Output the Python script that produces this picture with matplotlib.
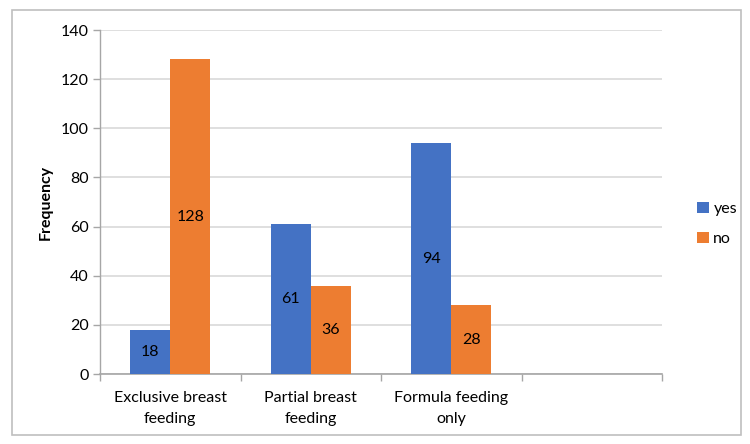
import numpy as np
import matplotlib.pyplot as plt
from matplotlib.patches import Rectangle

# data
categories = ["Exclusive breast\nfeeding", "Partial breast\nfeeding", "Formula feeding\nonly", ""]
yes_vals = [18, 61, 94, np.nan]
no_vals = [128, 36, 28, np.nan]
series_names = ["yes", "no"]
yticks = [0, 20, 40, 60, 80, 100, 120, 140]

plt.rcParams['font.family'] = ['Lato', 'DejaVu Sans']
W, H = 750, 444
fig = plt.figure(figsize=(W / 100, H / 100), dpi=100)
ax = fig.add_axes([100 / W, 1 - 374 / H, (662 - 100) / W, (374 - 30) / H])

blue = '#4472C4'
orange = '#ED7D31'
grid_c = '#D9D9D9'
axis_c = '#A6A6A6'

x = np.arange(len(categories))
bw = 0.285
b1 = ax.bar(x - bw / 2, yes_vals, bw, color=blue, label=series_names[0], zorder=3)
b2 = ax.bar(x + bw / 2, no_vals, bw, color=orange, label=series_names[1], zorder=3)

for bars, vals in ((b1, yes_vals), (b2, no_vals)):
    for rect, v in zip(bars, vals):
        if np.isnan(v):
            continue
        ax.text(rect.get_x() + rect.get_width() / 2, v / 2, '%d' % v,
                ha='center', va='center', fontsize=11.5, color='black', zorder=4)

ax.set_xlim(-0.5, len(categories) - 0.5)
ax.set_ylim(0, 140)
ax.set_yticks(yticks)
ax.yaxis.grid(True, color=grid_c, linewidth=1.2, zorder=0)
ax.set_axisbelow(True)

ax.set_xticks(x)
ax.set_xticklabels(categories, fontsize=11.5, linespacing=1.65)
ax.set_xticks(np.arange(len(categories) + 1) - 0.5, minor=True)
ax.tick_params(axis='x', which='major', length=0, pad=12)
ax.tick_params(axis='x', which='minor', length=5, color=axis_c, width=1)
ax.tick_params(axis='y', length=5, color=axis_c, width=1, labelsize=11.5, pad=3)

for s in ('top', 'right'):
    ax.spines[s].set_visible(False)
ax.spines['left'].set_color(axis_c)
ax.spines['bottom'].set_color(axis_c)
ax.spines['left'].set_linewidth(1)
ax.spines['bottom'].set_linewidth(1.2)

ax.set_ylabel('Frequency', fontsize=11.5, fontweight='bold', labelpad=6)

fig.legend(handles=[b1, b2], loc='center left', bbox_to_anchor=(683 / W, 1 - 224 / H),
           frameon=False, fontsize=11.5, handlelength=0.7, handleheight=0.7,
           handletextpad=0.3, labelspacing=1.0)

fig.patches.append(Rectangle((12 / W, 1 - 435 / H), (741 - 12) / W, (435 - 10) / H,
                             transform=fig.transFigure, fill=False,
                             edgecolor='#BFBFBF', linewidth=1.2))

fig.savefig('out.png', dpi=100, facecolor='white')
